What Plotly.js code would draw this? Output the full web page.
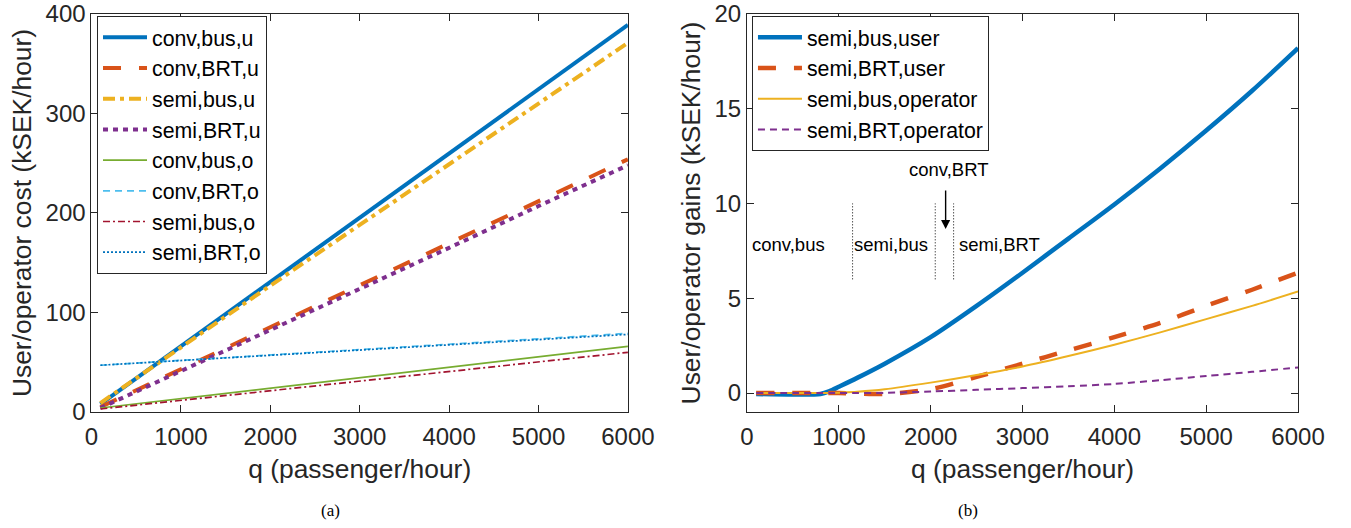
<!DOCTYPE html>
<html>
<head>
<meta charset="utf-8">
<script src="https://cdn.plot.ly/plotly-3.0.1.min.js"></script>
<style>html,body{margin:0;padding:0;background:#fff;}#chart{width:1351px;height:528px;}</style>
</head>
<body>
<div id="chart"></div>
<script>
// ---- Panel (a): user / operator cost (kSEK/hour) ----
const qA = [100, 1000, 2000, 3000, 4000, 5000, 6000];
const convBusU = [8, 66, 131, 195, 260, 324, 389];
const convBrtU = [5, 43, 85, 128, 170, 212, 254];
const semiBusU = [9, 65, 127, 188, 249, 310, 371];
const semiBrtU = [4, 41, 83, 124, 165, 207, 248];
const convBusO = [4, 13.4, 24, 34.5, 45, 55.5, 66];
const convBrtO = [47, 51.9, 57.3, 62.8, 68.2, 73.6, 79];
const semiBusO = [3, 11.7, 21.4, 31, 40.7, 50.3, 60];
const semiBrtO = [47, 51.7, 57, 62.3, 67.5, 72.8, 78];

// ---- Panel (b): user / operator gains (kSEK/hour) ----
const qB = [100, 500, 800, 900, 1000, 1200, 1500, 2000, 2500, 3000, 3500, 4000, 4500, 5000, 5500, 6000];
const semiBusUser = [-0.05, -0.08, -0.05, 0.1, 0.33, 0.8, 1.55, 2.95, 4.6, 6.35, 8.15, 9.95, 11.85, 13.85, 15.95, 18.2];
const semiBrtUser = [0, 0, 0, 0, 0, -0.02, -0.05, 0.2, 0.85, 1.55, 2.25, 2.95, 3.7, 4.6, 5.45, 6.35];
const semiBusOper = [0, 0, 0, 0, 0.02, 0.07, 0.2, 0.55, 0.95, 1.4, 1.95, 2.55, 3.2, 3.9, 4.6, 5.36];
const semiBrtOper = [0, 0, 0, 0, 0, 0, 0.01, 0.08, 0.17, 0.26, 0.36, 0.48, 0.68, 0.9, 1.12, 1.35];

// regime boundaries (dotted separators) and labels
const switchQ = [1150, 2050, 2250];
const switchY = [6, 10];
const regionLabels = ['conv,bus', 'semi,bus', 'semi,BRT'];
const regionLabelQ = [457, 1573, 2750];
const regionLabelY = 7.86;
const arrowLabel = 'conv,BRT';
const arrowQ = 2163;
const arrowTipY = 8.65;
const arrowLabelQ = 2196;
const arrowLabelY = 11.8;

const C = {blue:'#0072BD', orange:'#D95319', yellow:'#EDB120', purple:'#7E2F8E', green:'#77AC30', cyan:'#4DBEEE', red:'#A2142F'};
const FONT = '"Liberation Sans", Arial, Helvetica, sans-serif';
const AX = '#262626';

function tr(x, y, name, color, width, dash, xa, ya, leg, shape) {
  return {x: x, y: y, name: name, type: 'scatter', mode: 'lines',
    line: {color: color, width: width, dash: dash, shape: shape || 'linear', smoothing: 0.8},
    xaxis: xa, yaxis: ya, legend: leg};
}

const traces = [
  tr(qA, convBusU, 'conv,bus,u', C.blue, 4, 'solid', 'x', 'y', 'legend'),
  tr(qA, convBrtU, 'conv,BRT,u', C.orange, 4, '18px,18px', 'x', 'y', 'legend'),
  tr(qA, semiBusU, 'semi,bus,u', C.yellow, 4, '12px,5px,4px,5px', 'x', 'y', 'legend'),
  tr(qA, semiBrtU, 'semi,BRT,u', C.purple, 4, '5px,5px', 'x', 'y', 'legend'),
  tr(qA, convBusO, 'conv,bus,o', C.green, 1.7, 'solid', 'x', 'y', 'legend'),
  tr(qA, convBrtO, 'conv,BRT,o', C.cyan, 1.7, '7px,5px', 'x', 'y', 'legend'),
  tr(qA, semiBusO, 'semi,bus,o', C.red, 1.7, '7px,3px,2px,3px', 'x', 'y', 'legend'),
  tr(qA, semiBrtO, 'semi,BRT,o', C.blue, 1.7, '2px,2px', 'x', 'y', 'legend'),
  tr(qB, semiBusUser, 'semi,bus,user', C.blue, 4.5, 'solid', 'x2', 'y2', 'legend2', 'spline'),
  tr(qB, semiBrtUser, 'semi,BRT,user', C.orange, 4.5, '18px,18px', 'x2', 'y2', 'legend2', 'spline'),
  tr(qB, semiBusOper, 'semi,bus,operator', C.yellow, 2, 'solid', 'x2', 'y2', 'legend2', 'spline'),
  tr(qB, semiBrtOper, 'semi,BRT,operator', C.purple, 2, '7px,5px', 'x2', 'y2', 'legend2', 'spline')
];
switchQ.forEach(function(q) {
  traces.push({x: [q, q], y: switchY, type: 'scatter', mode: 'lines', showlegend: false,
    line: {color: '#000', width: 1, dash: '1px,2px'}, xaxis: 'x2', yaxis: 'y2', hoverinfo: 'skip'});
});

function axis(extra) {
  return Object.assign({
    showline: true, linecolor: AX, linewidth: 1, mirror: 'ticks',
    ticks: 'inside', ticklen: 7, tickcolor: AX, tickwidth: 1,
    showgrid: false, zeroline: false, ticklabeloverflow: 'allow',
    tickfont: {family: FONT, size: 24, color: AX}
  }, extra);
}

const annotations = [];
regionLabels.forEach(function(t, i) {
  annotations.push({xref: 'x2', yref: 'y2', x: regionLabelQ[i], y: regionLabelY, text: t,
    showarrow: false, font: {family: FONT, size: 18.5, color: '#000'}});
});
annotations.push({xref: 'x2', yref: 'y2', x: arrowLabelQ, y: arrowLabelY, text: arrowLabel,
  showarrow: false, font: {family: FONT, size: 18.5, color: '#000'}});
annotations.push({xref: 'x2', yref: 'y2', x: arrowQ, y: arrowTipY, text: '', showarrow: true,
  ax: 0, ay: -40, arrowhead: 2, arrowsize: 1.3, arrowwidth: 1.4, arrowcolor: '#000'});
annotations.push({xref: 'paper', yref: 'paper', x: 0.2443, y: 0.034, xanchor: 'center', yanchor: 'middle', text: '(a)', showarrow: false,
  font: {family: '"Liberation Serif", "Times New Roman", serif', size: 17, color: '#000'}});
annotations.push({xref: 'paper', yref: 'paper', x: 0.7165, y: 0.034, xanchor: 'center', yanchor: 'middle', text: '(b)', showarrow: false,
  font: {family: '"Liberation Serif", "Times New Roman", serif', size: 17, color: '#000'}});

const titleFont = {family: FONT, size: 26.4, color: AX};
const layout = {
  width: 1351, height: 528,
  margin: {l: 0, r: 0, t: 0, b: 0},
  paper_bgcolor: '#fff', plot_bgcolor: '#fff',
  font: {family: FONT, color: AX},
  xaxis: axis({domain: [0.0677, 0.4648], range: [0, 6000], tickvals: [0,1000,2000,3000,4000,5000,6000],
    ticklabelstandoff: 3, title: {text: 'q (passenger/hour)', font: titleFont, standoff: 10}, anchor: 'y'}),
  yaxis: axis({domain: [0.2197, 0.9735], range: [0, 400], tickvals: [0,100,200,300,400],
    title: {text: 'User/operator cost (kSEK/hour)', font: titleFont, standoff: 6}, anchor: 'x'}),
  xaxis2: axis({domain: [0.5529, 0.9608], range: [0, 6000], tickvals: [0,1000,2000,3000,4000,5000,6000],
    ticklabelstandoff: 3, title: {text: 'q (passenger/hour)', font: titleFont, standoff: 10}, anchor: 'y2'}),
  yaxis2: axis({domain: [0.2197, 0.9735], range: [-1, 20], tickvals: [0,5,10,15,20],
    title: {text: 'User/operator gains (kSEK/hour)', font: titleFont, standoff: 6}, anchor: 'x2'}),
  legend: {x: 0.0718, y: 0.9697, xanchor: 'left', yanchor: 'top', bgcolor: '#fff',
    bordercolor: AX, borderwidth: 1, font: {family: FONT, size: 21.3, color: '#000'},
    itemwidth: 44, tracegroupgap: 0},
  legend2: {x: 0.5566, y: 0.9697, xanchor: 'left', yanchor: 'top', bgcolor: '#fff',
    bordercolor: AX, borderwidth: 1, font: {family: FONT, size: 21.3, color: '#000'},
    itemwidth: 44, tracegroupgap: 0},
  annotations: annotations,
  showlegend: true
};

Plotly.newPlot('chart', traces, layout, {displayModeBar: false, staticPlot: true});
</script>
</body>
</html>
